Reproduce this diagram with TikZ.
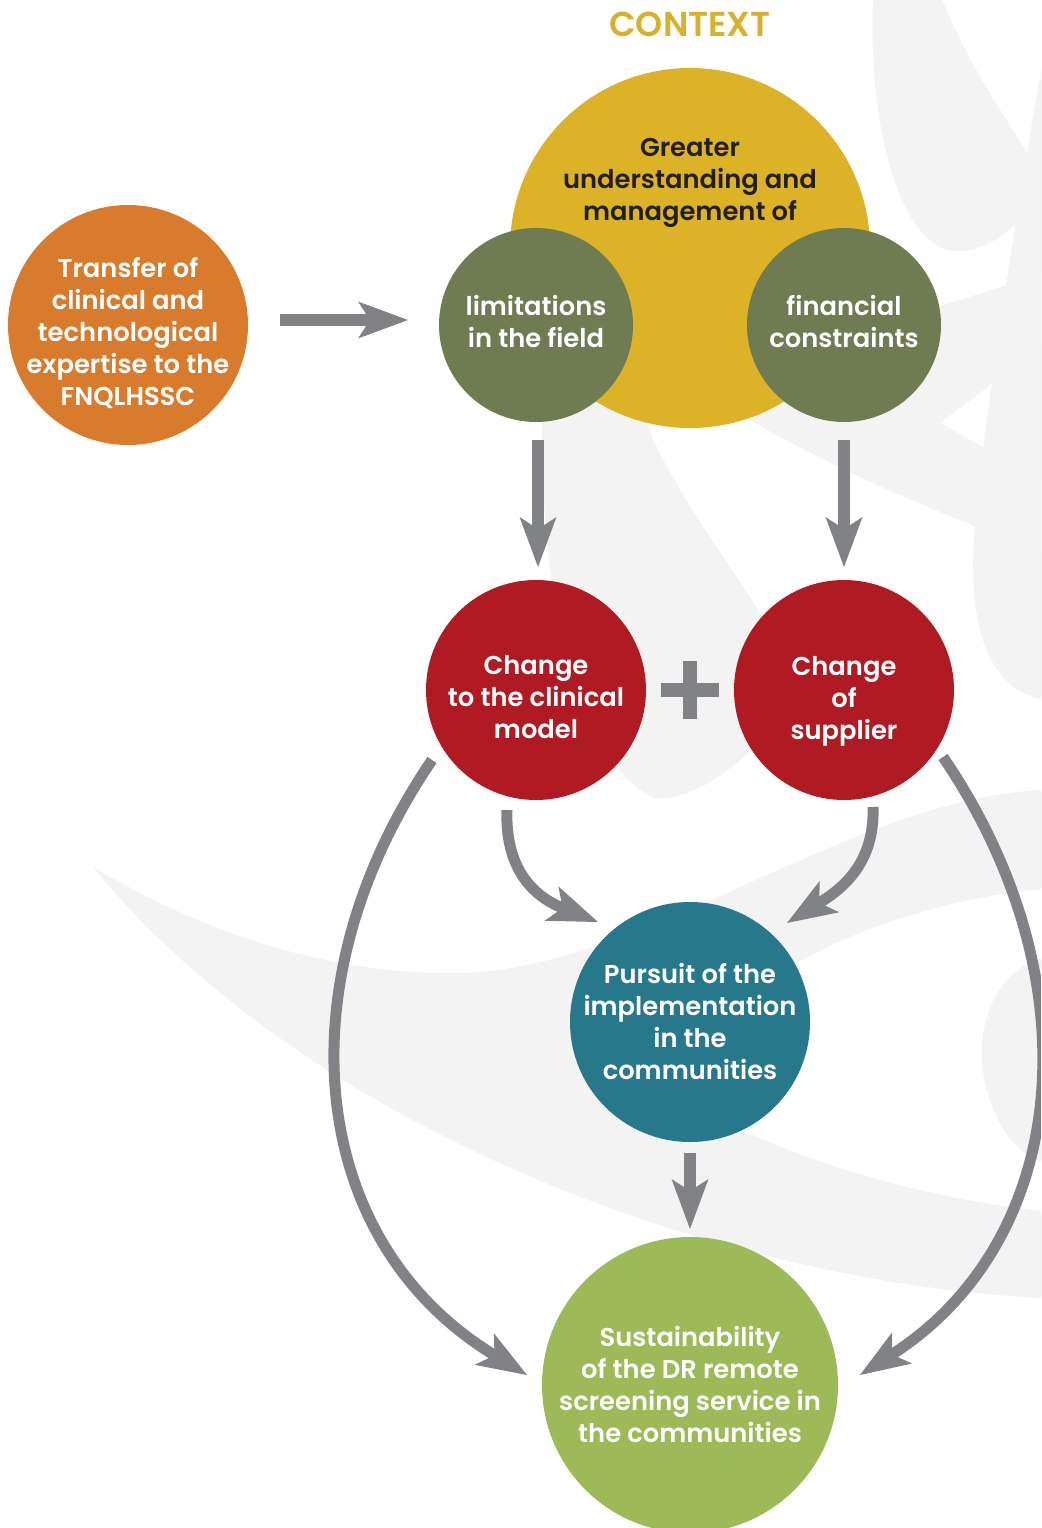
\documentclass[tikz,border=0pt]{standalone}
\usepackage{fontspec}
\setmainfont{Poppins}[UprightFont={* SemiBold}]
\usetikzlibrary{arrows.meta,calc}
\definecolor{corange}{HTML}{D97B2C}
\definecolor{cyellow}{HTML}{DCB326}
\definecolor{colive}{HTML}{6F7B50}
\definecolor{cred}{HTML}{B01A22}
\definecolor{cteal}{HTML}{26788A}
\definecolor{clgreen}{HTML}{9CBB58}
\definecolor{carrow}{HTML}{818286}
\definecolor{cbg}{HTML}{F3F3F3}
\definecolor{ctitle}{HTML}{D8B12C}
\definecolor{cdark}{HTML}{231F20}
\begin{document}
\begin{tikzpicture}[x=1pt,y=-1pt,
  disc/.style={circle, inner sep=0pt, draw=none},
  txt/.style={align=center, inner sep=0pt, text=white, font=\fontsize{25.8}{32}\selectfont},
  arr/.style={draw=carrow, line width=12pt, -{Stealth[length=50pt,width=37pt,inset=12pt,line width=0pt]}},
  carr/.style={draw=carrow, line width=11pt, -{Stealth[length=50pt,width=37pt,inset=12pt,line width=0pt]}},
  bgshape/.style={fill=cbg}]
\useasboundingbox (0,0) rectangle (1041,1528);
\clip (0,0) rectangle (1041,1528);
% background swooshes
\fill[bgshape] (93,867) .. controls (250,960) and (380,975) .. (465,973) .. controls (650,965) and (850,800) .. (1041,790) -- (1041,889) .. controls (880,905) and (720,980) .. (664,1087) .. controls (760,1150) and (900,1195) .. (1041,1211) -- (1041,1298) .. controls (700,1280) and (300,1120) .. (93,867) -- cycle;
\fill[bgshape] (1041,958) .. controls (990,975) and (980,1030) .. (982,1060) .. controls (985,1110) and (1010,1150) .. (1041,1162) -- cycle;
\fill[bgshape] (873,0) .. controls (868,130) and (900,240) .. (950,250) .. controls (990,258) and (1045,210) .. (1035,170) .. controls (1025,140) and (985,100) .. (942,0) -- cycle;
\fill[bgshape] (1041,70) .. controls (1010,250) and (975,480) .. (973,560) .. controls (972,640) and (995,690) .. (1041,699) -- cycle;
\fill[bgshape] (620,83) .. controls (590,180) and (542,330) .. (542,433) .. controls (542,600) and (575,760) .. (654,798) .. controls (700,805) and (800,730) .. (785,660) .. controls (760,600) and (690,520) .. (652,437) .. controls (635,380) and (622,250) .. (620,83) -- cycle;
\fill[bgshape] (630,330) .. controls (700,400) and (820,470) .. (1041,551) -- (1041,480) -- (940,423) -- (1041,347) -- (1041,273) .. controls (880,330) and (720,370) .. (600,300) -- cycle;
% circles
\node[disc, fill=cyellow, minimum size=360pt] (ctx) at (690,248) {};
\node[disc, fill=colive, minimum size=194pt] (lim) at (536,325) {};
\node[disc, fill=colive, minimum size=194pt] (fin) at (844,325) {};
\node[disc, fill=corange, minimum size=240pt] (transfer) at (128,325) {};
\node[disc, fill=cred, minimum size=220pt] (clin) at (536,690) {};
\node[disc, fill=cred, minimum size=220pt] (supp) at (844,690) {};
\node[disc, fill=cteal, minimum size=240pt] (pursuit) at (690,1022) {};
\node[disc, fill=clgreen, minimum size=296pt] (sust) at (690,1385) {};
% texts
\node[txt, text=ctitle, font=\fontsize{34.6}{40}\selectfont] (title) at (690,24) {CONTEXT};
\node[txt, text=cdark] (ctxtxt) at (690,183) {Greater\\understanding and\\management of};
\node[txt] (limtxt) at (536,321) {limitations\\in the field};
\node[txt] (fintxt) at (844,321) {financial\\constraints};
\node[txt] (transfertxt) at (128,333) {Transfer of\\clinical and\\technological\\expertise to the\\FNQLHSSC};
\node[txt] (clintxt) at (536,697) {Change\\to the clinical\\model};
\node[txt] (supptxt) at (844,701) {Change\\of\\supplier};
\node[txt] (pursuittxt) at (690,1021) {Pursuit of the\\implementation\\in the\\communities};
\node[txt] (susttxt) at (690,1384) {Sustainability\\of the DR remote\\screening service in\\the communities};
% plus sign
\coordinate (plus) at (690,690);
\fill[carrow] ($(plus)+(-29,-7)$) rectangle ($(plus)+(29,7)$);
\fill[carrow] ($(plus)+(-7,-29)$) rectangle ($(plus)+(7,29)$);
% arrows
\draw[arr] ($(transfer.center)+(152,-5)$) -- ($(lim.center)+(-128,-5)$);
\draw[arr] ($(lim.center)+(2,115)$) -- ($(clin.center)+(2,-123)$);
\draw[arr] ($(fin.center)+(0,115)$) -- ($(supp.center)+(0,-123)$);
\draw[carr] ($(clin.center)+(-29,120)$) .. controls (505,865) and (530,895) .. ($(pursuit.center)+(-92,-100)$);
\draw[carr] ($(supp.center)+(29,117)$) .. controls (875,865) and (840,890) .. ($(pursuit.center)+(97,-99)$);
\draw[arr] ($(pursuit.center)+(0,131)$) -- ($(sust.center)+(0,-156)$);
\draw[carr] ($(clin.center)+(-104,70)$) .. controls (282,980) and (305,1240) .. ($(sust.center)+(-163,-10)$);
\draw[carr] ($(supp.center)+(99,67)$) .. controls (1095,980) and (1070,1240) .. ($(sust.center)+(170,-10)$);
\end{tikzpicture}
\end{document}
